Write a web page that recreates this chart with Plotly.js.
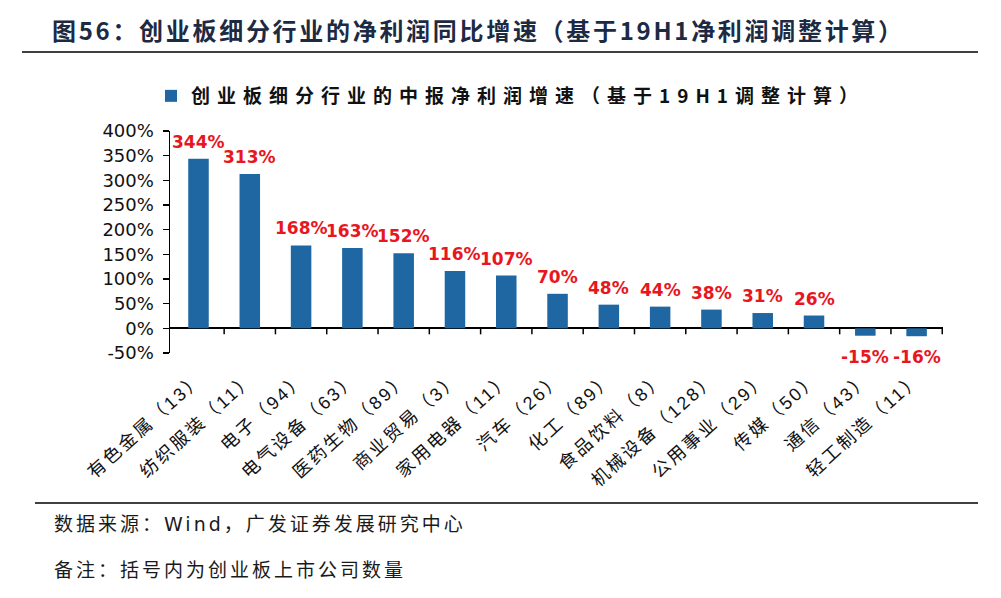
<!DOCTYPE html>
<html>
<head>
<meta charset="utf-8">
<script src="https://cdn.plot.ly/plotly-3.0.1.min.js"></script>
<style>
  html, body { margin: 0; padding: 0; background: #fff; }
  #chart { width: 1001px; height: 598px; }
  .gtitle { letter-spacing: 2.7px; }
  .legendtext { letter-spacing: 7px; }
  .xtick text { letter-spacing: 2.5px; }
  .annotation[data-index="0"] text, .annotation[data-index="1"] text { letter-spacing: 3px; }
</style>
</head>
<body>
<div id="chart"></div>
<script>
const categories = ['有色金属（13）', '纺织服装（11）', '电子（94）', '电气设备（63）', '医药生物（89）', '商业贸易（3）', '家用电器（11）', '汽车（26）', '化工（89）', '食品饮料（8）', '机械设备（128）', '公用事业（29）', '传媒（50）', '通信（43）', '轻工制造（11）'];
const growth = [344, 313, 168, 163, 152, 116, 107, 70, 48, 44, 38, 31, 26, -15, -16];
const yTickVals = [-50, 0, 50, 100, 150, 200, 250, 300, 350, 400];
const yTickLabels = ['-50%', '0%', '50%', '100%', '150%', '200%', '250%', '300%', '350%', '400%'];
const seriesName = '创业板细分行业的中报净利润增速（基于19H1调整计算）';
const chartTitle = '图56：创业板细分行业的净利润同比增速（基于19H1净利润调整计算）';
const sourceNote = '数据来源：Wind，广发证券发展研究中心';
const remarkNote = '备注：括号内为创业板上市公司数量';

const CJK = '"Noto Sans CJK SC", sans-serif';
const LAT = '"Liberation Sans", "Noto Sans CJK SC", sans-serif';
const WIDE = '"DejaVu Sans", "Noto Sans CJK SC", sans-serif';

// plot area in pixels: x 170..943, y 131..353
const PL = 170, PR = 943, PT = 131, PB = 353;
const px = v => (v - PL) / (PR - PL);
const py = v => (PB - v) / (PB - PT);

const annotations = [
  { xref: 'paper', yref: 'paper', x: px(52), y: py(524), xanchor: 'left', yanchor: 'middle', align: 'left',
    text: sourceNote, showarrow: false, font: { family: WIDE, size: 19, color: '#1a1a1a' } },
  { xref: 'paper', yref: 'paper', x: px(52), y: py(568), xanchor: 'left', yanchor: 'middle', align: 'left',
    text: remarkNote, showarrow: false, font: { family: CJK, size: 19, color: '#1a1a1a' } }
];
categories.forEach((c, i) => {
  const v = growth[i];
  annotations.push({
    x: c, y: v, xref: 'x', yref: 'y', showarrow: false,
    text: v + '%', yshift: v >= 0 ? 17 : -21,
    xanchor: 'center', yanchor: 'middle',
    font: { family: '"DejaVu Sans", sans-serif', size: 17, color: '#e8161e', weight: 'bold' }
  });
});

const shapes = [
  { type: 'line', xref: 'paper', yref: 'paper', x0: px(22), x1: px(978), y0: py(52), y1: py(52),
    line: { color: '#000', width: 1.5 } },
  { type: 'line', xref: 'paper', yref: 'paper', x0: px(35), x1: px(978), y0: py(503), y1: py(503),
    line: { color: '#000', width: 1.5 } }
];
categories.forEach((c, i) => {
  shapes.push({ type: 'line', xref: 'x', yref: 'y', x0: i + 0.5, x1: i + 0.5,
    ysizemode: 'pixel', yanchor: 0, y0: 0, y1: -6, line: { color: '#000', width: 1.5 } });
});

const trace = {
  type: 'bar', x: categories, y: growth, name: seriesName,
  marker: { color: '#1f67a3' }, showlegend: true, hoverinfo: 'x+y'
};

const layout = {
  width: 1001, height: 598,
  margin: { l: PL, r: 1001 - PR, t: PT, b: 598 - PB, pad: 0 },
  paper_bgcolor: '#fff', plot_bgcolor: '#fff',
  title: {
    text: chartTitle, xref: 'container', yref: 'container',
    x: 52 / 1001, xanchor: 'left', y: 1 - 32 / 598, yanchor: 'middle',
    font: { family: CJK, size: 24, color: '#1c2a44', weight: 'bold' }
  },
  showlegend: true,
  legend: {
    orientation: 'h', x: px(151), xanchor: 'left', y: py(96), yanchor: 'middle',
    font: { family: CJK, size: 19, color: '#111', weight: 'bold' },
    bgcolor: 'rgba(0,0,0,0)'
  },
  bargap: 0.6,
  xaxis: {
    type: 'category', showgrid: false, showline: false, zeroline: false,
    ticks: 'outside', ticklen: 7, tickcolor: 'rgba(0,0,0,0)', tickangle: -42,
    tickfont: { family: LAT, size: 18, color: '#111' }
  },
  yaxis: {
    range: [-50, 400], tickmode: 'array', tickvals: yTickVals, ticktext: yTickLabels,
    showgrid: false, showline: true, linecolor: '#000', linewidth: 1.5,
    ticks: 'outside', ticklen: 6, tickcolor: '#000', tickwidth: 1.5, ticklabelstandoff: 5,
    zeroline: true, zerolinecolor: '#000', zerolinewidth: 2,
    tickfont: { family: WIDE, size: 18, color: '#111' }
  },
  annotations: annotations,
  shapes: shapes
};

Plotly.newPlot('chart', [trace], layout, { displayModeBar: false, staticPlot: true });
</script>
</body>
</html>
